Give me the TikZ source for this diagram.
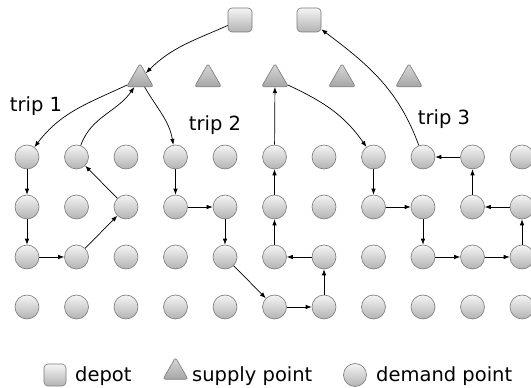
\documentclass[tikz,border=0pt]{standalone}
\usepackage{fontspec}
\setmainfont{DejaVu Sans}
\usetikzlibrary{arrows.meta,shapes.geometric}
\begin{document}
\begin{tikzpicture}[x=1pt,y=1pt,
  every node/.style={font=\fontsize{19.5}{23}\selectfont},
  dem/.style={circle,draw=gray!95!black,line width=0.6pt,top color=gray!8,bottom color=gray!60,minimum size=24pt,inner sep=0pt},
  dep/.style={rectangle,rounded corners=4pt,draw=gray!95!black,line width=0.6pt,top color=gray!8,bottom color=gray!60,minimum size=24pt,inner sep=0pt},
  sup/.style={regular polygon,regular polygon sides=3,rounded corners=2.5pt,draw=gray!95!black,line width=0.6pt,top color=gray!30,bottom color=gray!70,minimum size=31pt,inner sep=0pt},
  arr/.style={-{Latex[length=6pt,width=4.5pt]},line width=0.7pt,black},
  lbl/.style={anchor=base,inner sep=0pt}
]
\useasboundingbox (0,0) rectangle (531,388);
% depots
\node[dep] (d1) at (240,368) {};
\node[dep] (d2) at (309,368) {};
% supply points
\foreach \i/\x in {1/140,2/208,3/275,4/342,5/409}
  \node[sup] (t\i) at (\x,309) {};
% demand points
\foreach \c in {0,...,10}
  \foreach \r/\y in {0/231,1/181,2/131,3/81}
    \node[dem] (c\c-\r) at ({27+49.5*\c},\y) {};
% labels
\node[lbl] (l1) at (36,276) {trip 1};
\node[lbl] (l2) at (215,257) {trip 2};
\node[lbl] (l3) at (444,263) {trip 3};
% trip 1
\draw[arr] (d1) to[out=204,in=45] (t1);
\draw[arr] (t1) to[out=205,in=53] (c0-0);
\draw[arr] (c0-0) -- (c0-1);
\draw[arr] (c0-1) -- (c0-2);
\draw[arr] (c0-2) -- (c1-2);
\draw[arr] (c1-2) -- (c2-1);
\draw[arr] (c2-1) -- (c1-0);
\draw[arr] (c1-0) to[out=70,in=235] (t1);
% trip 2
\draw[arr] (t1) to[out=-60,in=100] (c3-0);
\draw[arr] (c3-0) -- (c3-1);
\draw[arr] (c3-1) -- (c4-1);
\draw[arr] (c4-1) -- (c4-2);
\draw[arr] (c4-2) -- (c5-3);
\draw[arr] (c5-3) -- (c6-3);
\draw[arr] (c6-3) -- (c6-2);
\draw[arr] (c6-2) -- (c5-2);
\draw[arr] (c5-2) -- (c5-1);
\draw[arr] (c5-1) -- (c5-0);
\draw[arr] (c5-0) -- (t3);
% trip 3
\draw[arr] (t3) to[out=-25,in=125] (c7-0);
\draw[arr] (c7-0) -- (c7-1);
\draw[arr] (c7-1) -- (c8-1);
\draw[arr] (c8-1) -- (c8-2);
\draw[arr] (c8-2) -- (c9-2);
\draw[arr] (c9-2) -- (c10-2);
\draw[arr] (c10-2) -- (c10-1);
\draw[arr] (c10-1) -- (c9-1);
\draw[arr] (c9-1) -- (c9-0);
\draw[arr] (c9-0) -- (c8-0);
\draw[arr] (c8-0) to[out=110,in=-37] (d2);
% legend
\node[dep,minimum size=22pt] (ld) at (55,13) {};
\node[anchor=base west,inner sep=0pt] (ldt) at (75,6) {depot};
\node[sup,minimum size=29pt] (ls) at (175.5,16) {};
\node[anchor=base west,inner sep=0pt] (lst) at (192,6) {supply point};
\node[dem,minimum size=23pt] (lc) at (355,13) {};
\node[anchor=base west,inner sep=0pt] (lct) at (376,6) {demand point};
\end{tikzpicture}
\end{document}
